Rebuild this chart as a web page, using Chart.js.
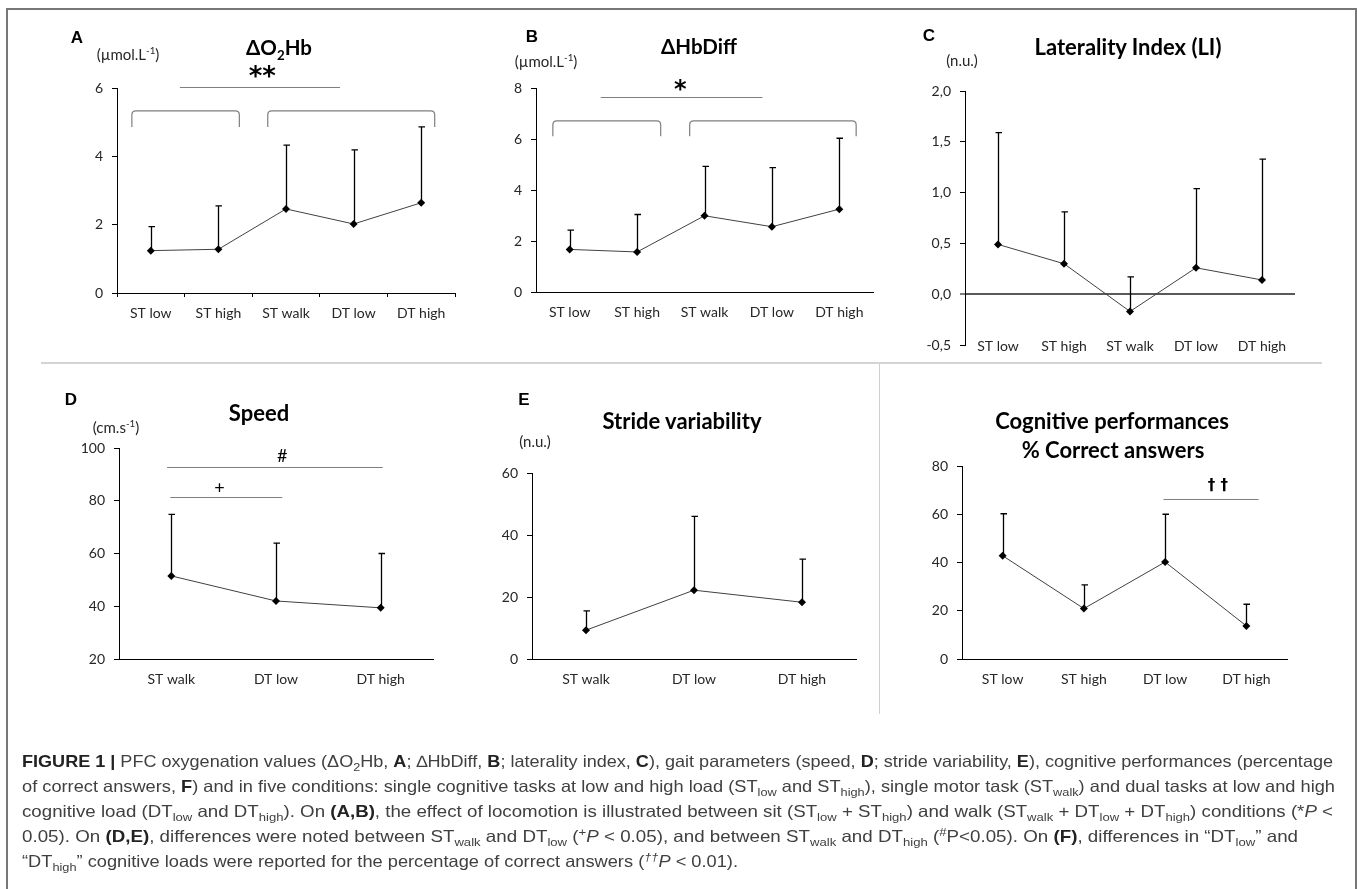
<!DOCTYPE html>
<html><head><meta charset="utf-8">
<script src="https://cdn.jsdelivr.net/npm/chart.js@4.4.1/dist/chart.umd.min.js"></script>
<style>
html,body{margin:0;padding:0;background:#fff;}
body{width:1357px;height:889px;position:relative;overflow:hidden;font-family:Lato,sans-serif;}
.frame{position:absolute;left:6px;top:8px;width:1347px;height:900px;border:2px solid #777;border-bottom:none;}
.hsep{position:absolute;left:41px;top:362px;width:1281px;height:2px;background:#d4d4d4;}
.vsep{position:absolute;left:879px;top:364px;width:1px;height:350px;background:#cfcfcf;}
.t{position:absolute;transform:translate(-50%,-50%);white-space:nowrap;color:#000;line-height:1;}
.title{font-family:Lato,sans-serif;font-weight:700;font-size:22px;}
.dtitle{font-size:20.5px;}
.letter{font-family:'Liberation Sans',Arial,sans-serif;font-weight:700;font-size:17px;}
.unit{font-family:Lato,sans-serif;font-size:15px;color:#262626;}
.t sub,.t sup{font-size:65%;line-height:0;}
.cap{position:absolute;left:22px;white-space:nowrap;font-family:'Liberation Sans',Arial,sans-serif;font-size:16.5px;color:#404040;transform-origin:0 50%;line-height:1;}
.cap b{color:#222;}
.cap sub,.cap sup{font-size:70%;line-height:0;}
canvas{position:absolute;}
</style></head><body>
<div class="frame"></div>
<div class="hsep"></div>
<div class="vsep"></div>

<div class="t letter" style="left:77px;top:37px">A</div>
<div class="t unit" style="left:128px;top:54px">(µmol.L<sup>-1</sup>)</div>
<div class="t title dtitle" style="left:279px;top:47px">ΔO<sub>2</sub>Hb</div>

<div class="t letter" style="left:532px;top:36px">B</div>
<div class="t unit" style="left:546px;top:61px">(µmol.L<sup>-1</sup>)</div>
<div class="t title dtitle" style="left:699px;top:46px">ΔHbDiff</div>

<div class="t letter" style="left:929px;top:35px">C</div>
<div class="t unit" style="left:962px;top:60px">(n.u.)</div>
<div class="t title" style="left:1128px;top:47px">Laterality Index (LI)</div>

<div class="t letter" style="left:71px;top:399px">D</div>
<div class="t unit" style="left:116px;top:427px">(cm.s<sup>-1</sup>)</div>
<div class="t title" style="left:259px;top:413px">Speed</div>

<div class="t letter" style="left:524px;top:399px">E</div>
<div class="t unit" style="left:535px;top:441px">(n.u.)</div>
<div class="t title" style="left:682px;top:421px">Stride variability</div>

<div class="t title" style="left:1112px;top:421px">Cognitive performances</div>
<div class="t title" style="left:1113px;top:450px">% Correct answers</div>

<div class="cap" data-w="1311" style="top:753px"><b>FIGURE 1 |</b> PFC oxygenation values (ΔO<sub>2</sub>Hb, <b>A</b>; ∆HbDiff, <b>B</b>; laterality index, <b>C</b>), gait parameters (speed, <b>D</b>; stride variability, <b>E</b>), cognitive performances (percentage</div>
<div class="cap" data-w="1313" style="top:778px">of correct answers, <b>F</b>) and in five conditions: single cognitive tasks at low and high load (ST<sub>low</sub> and ST<sub>high</sub>), single motor task (ST<sub>walk</sub>) and dual tasks at low and high</div>
<div class="cap" data-w="1311" style="top:803px">cognitive load (DT<sub>low</sub> and DT<sub>high</sub>). On <b>(A,B)</b>, the effect of locomotion is illustrated between sit (ST<sub>low</sub> + ST<sub>high</sub>) and walk (ST<sub>walk</sub> + DT<sub>low</sub> + DT<sub>high</sub>) conditions (*<i>P</i> &lt;</div>
<div class="cap" data-w="1276" style="top:828px">0.05). On <b>(D,E)</b>, differences were noted between ST<sub>walk</sub> and DT<sub>low</sub> (<sup>+</sup><i>P</i> &lt; 0.05), and between ST<sub>walk</sub> and DT<sub>high</sub> (<sup>#</sup>P&lt;0.05). On <b>(F)</b>, differences in “DT<sub>low</sub>” and</div>
<div class="cap" data-w="716" style="top:853px">“DT<sub>high</sub>” cognitive loads were reported for the percentage of correct answers (<sup><i>††</i></sup><i>P</i> &lt; 0.01).</div>

<script>
// ---------- categories ----------
const condsAll  = ['ST low','ST high','ST walk','DT low','DT high'];
const condsWalk = ['ST walk','DT low','DT high'];
const condsCog  = ['ST low','ST high','DT low','DT high'];

// ---------- series (mean and SD) ----------
const o2hbMean    = [1.24, 1.28, 2.46, 2.02, 2.64];
const o2hbSD      = [0.70, 1.27, 1.87, 2.17, 2.22];
const hbdiffMean  = [1.67, 1.57, 2.99, 2.56, 3.25];
const hbdiffSD    = [0.76, 1.47, 1.94, 2.32, 2.78];
const liMean      = [0.49, 0.30, -0.17, 0.26, 0.14];
const liSD        = [1.10, 0.51, 0.34, 0.78, 1.19];
const speedMean   = [51.5, 42.0, 39.4];
const speedSD     = [23.3, 21.9, 20.6];
const strideMean  = [9.3, 22.2, 18.3];
const strideSD    = [6.2, 23.8, 13.9];
const correctMean = [42.8, 20.9, 40.2, 13.7];
const correctSD   = [17.4, 9.8, 19.8, 9.0];

// ---------- y tick values and labels ----------
const yTicksA = [0, 2, 4, 6];          const yLabelsA = ['0','2','4','6'];
const yTicksB = [0, 2, 4, 6, 8];       const yLabelsB = ['0','2','4','6','8'];
const yTicksC = [-0.5, 0, 0.5, 1, 1.5, 2]; const yLabelsC = ['-0,5','0,0','0,5','1,0','1,5','2,0'];
const yTicksD = [20, 40, 60, 80, 100]; const yLabelsD = ['20','40','60','80','100'];
const yTicksE = [0, 20, 40, 60];       const yLabelsE = ['0','20','40','60'];
const yTicksF = [0, 20, 40, 60, 80];   const yLabelsF = ['0','20','40','60','80'];

// ---------- significance annotations (category index / value units) ----------
const bracketsA = [[-0.28, 1.31], [1.73, 4.2]]; const bracketLevelA = [5.33, 4.86];
const sigLinesA = [[0.43, 2.8, 6.03]]; const sigMarksA = [['**', 1.65, 6.3]];
const bracketsB = [[-0.25, 1.35], [1.78, 4.25]]; const bracketLevelB = [6.71, 6.11];
const sigLinesB = [[0.46, 2.86, 7.66]]; const sigMarksB = [['*', 1.64, 7.9]];
const sigLinesD = [[-0.04, 2.02, 92.8], [-0.01, 1.06, 81.5]]; const sigMarksD = [['#', 1.06, 97.0], ['+', 0.46, 84.9]];
const sigLinesF = [[1.98, 3.15, 66.3]]; const sigMarksF = [['† †', 2.65, 71.7]];

const errPlugin = {
  id: 'errbars',
  beforeDatasetsDraw(chart, args, opts) {
    const ctx = chart.ctx, ys = chart.scales.y;
    const ds = chart.data.datasets[0];
    const meta = chart.getDatasetMeta(0);
    ctx.save();
    ctx.strokeStyle = '#000'; ctx.lineWidth = 1.3;
    meta.data.forEach((pt, i) => {
      const x = Math.round(pt.x) + 0.5;
      const y1 = ys.getPixelForValue(ds.data[i] + opts.sd[i]);
      ctx.beginPath();
      ctx.moveTo(x, pt.y); ctx.lineTo(x, y1);
      ctx.moveTo(x - 3, y1); ctx.lineTo(x + 3.5, y1);
      ctx.stroke();
    });
    ctx.restore();
  }
};

const sigPlugin = {
  id: 'sig',
  afterDraw(chart, args, o) {
    const ctx = chart.ctx, xs = chart.scales.x, ys = chart.scales.y;
    ctx.save();
    ctx.strokeStyle = '#7f7f7f'; ctx.lineWidth = 1.2;
    (o.brackets || []).forEach(b => {
      const x0 = xs.getPixelForValue(b[0]), x1 = xs.getPixelForValue(b[1]);
      const yt = ys.getPixelForValue(o.level[0]), yb = ys.getPixelForValue(o.level[1]);
      const r = 4;
      ctx.beginPath();
      ctx.moveTo(x0, yb); ctx.lineTo(x0, yt + r); ctx.quadraticCurveTo(x0, yt, x0 + r, yt);
      ctx.lineTo(x1 - r, yt); ctx.quadraticCurveTo(x1, yt, x1, yt + r); ctx.lineTo(x1, yb);
      ctx.stroke();
    });
    (o.lines || []).forEach(l => {
      const y = Math.round(ys.getPixelForValue(l[2])) + 0.5;
      ctx.beginPath();
      ctx.moveTo(xs.getPixelForValue(l[0]), y); ctx.lineTo(xs.getPixelForValue(l[1]), y);
      ctx.stroke();
    });
    ctx.fillStyle = '#000'; ctx.textAlign = 'center'; ctx.textBaseline = 'middle';
    (o.marks || []).forEach(m => {
      ctx.font = o.markFont || 'bold 18px Lato';
      ctx.fillText(m[0], xs.getPixelForValue(m[1]), ys.getPixelForValue(m[2]));
    });
    ctx.restore();
  }
};

function panel(cfg) {
  const padT = 50, padR = 20, yW = 55, xH = 45;
  const [l, t, r, b] = cfg.area;
  const W = r - l + yW + padR, H = b - t + padT + xH;
  const c = document.createElement('canvas');
  c.width = W; c.height = H;
  c.style.cssText = `left:${l - yW}px;top:${t - padT}px;width:${W}px;height:${H}px`;
  document.body.insertBefore(c, document.body.firstChild.nextSibling);
  const zero = !!cfg.zeroLine;
  new Chart(c, {
    type: 'line',
    data: { labels: cfg.labels, datasets: [{
      data: cfg.mean, borderColor: '#404040', borderWidth: 1, tension: 0,
      pointStyle: 'rectRot', pointRadius: 4, pointBackgroundColor: '#000',
      pointBorderColor: '#000', pointBorderWidth: 0 }] },
    options: {
      responsive: false, animation: false, events: [],
      layout: { padding: { top: padT, right: padR, left: 0, bottom: 0 } },
      plugins: { legend: { display: false }, tooltip: { enabled: false },
        errbars: { sd: cfg.sd }, sig: cfg.sig || {} },
      scales: {
        x: { type: 'category', offset: true,
          grid: { display: !!cfg.xTicks, offset: true, drawOnChartArea: false, drawTicks: !!cfg.xTicks, tickLength: 4, color: '#000' },
          border: { display: cfg.xBorder !== false, color: '#000', width: 1 },
          ticks: { padding: cfg.labelPad, color: '#262626', font: { family: 'Lato', size: 14 }, maxRotation: 0, autoSkip: false },
          afterFit(s) { s.height = xH; },
          afterUpdate(s) { s._computeLabelArea = function () { return undefined; }; } },
        y: { min: cfg.yTicks[0], max: cfg.yTicks[cfg.yTicks.length - 1],
          afterBuildTicks(s) { s.ticks = cfg.yTicks.map(v => ({ value: v })); },
          ticks: { callback: (v, i) => cfg.yLabels[i], padding: 9, color: '#262626', font: { family: 'Lato', size: 14 } },
          grid: { drawOnChartArea: zero, drawTicks: true, tickLength: 5, tickColor: '#000', tickWidth: 1,
            color: ctx => (zero && ctx.tick && ctx.tick.value === 0) ? '#595959' : 'rgba(0,0,0,0)',
            lineWidth: ctx => (zero && ctx.tick && ctx.tick.value === 0) ? 2 : 1 },
          border: { color: '#000', width: 1 },
          afterFit(s) { s.width = yW; } }
      }
    },
    plugins: [errPlugin, sigPlugin]
  });
}

panel({ area: [117, 88, 455, 293], labels: condsAll, mean: o2hbMean, sd: o2hbSD, yTicks: yTicksA, yLabels: yLabelsA,
  xTicks: true, labelPad: 8,
  sig: { brackets: bracketsA, level: bracketLevelA, lines: sigLinesA, marks: sigMarksA, markFont: 'bold 26px "DejaVu Sans"' } });
panel({ area: [536, 88, 873, 292], labels: condsAll, mean: hbdiffMean, sd: hbdiffSD, yTicks: yTicksB, yLabels: yLabelsB,
  labelPad: 12,
  sig: { brackets: bracketsB, level: bracketLevelB, lines: sigLinesB, marks: sigMarksB, markFont: 'bold 24px "DejaVu Sans"' } });
panel({ area: [965, 91, 1295, 345], labels: condsAll, mean: liMean, sd: liSD, yTicks: yTicksC, yLabels: yLabelsC,
  xBorder: false, zeroLine: true, labelPad: -7 });
panel({ area: [119, 448, 433, 659], labels: condsWalk, mean: speedMean, sd: speedSD, yTicks: yTicksD, yLabels: yLabelsD,
  labelPad: 12,
  sig: { lines: sigLinesD, marks: sigMarksD, markFont: '18px Lato' } });
panel({ area: [532, 473, 856, 659], labels: condsWalk, mean: strideMean, sd: strideSD, yTicks: yTicksE, yLabels: yLabelsE,
  labelPad: 12 });
panel({ area: [962, 466, 1287, 659], labels: condsCog, mean: correctMean, sd: correctSD, yTicks: yTicksF, yLabels: yLabelsF,
  labelPad: 12,
  sig: { lines: sigLinesF, marks: sigMarksF, markFont: 'bold 15px "DejaVu Sans"' } });

// fit caption lines to the widths of the reference
function fitCaption() {
  document.querySelectorAll('.cap').forEach(d => {
    d.style.transform = 'none';
    const w = d.getBoundingClientRect().width;
    const target = +d.dataset.w;
    d.style.transform = `scaleX(${target / w})`;
  });
}
fitCaption();
if (document.fonts && document.fonts.ready) document.fonts.ready.then(fitCaption);
</script>
</body></html>
